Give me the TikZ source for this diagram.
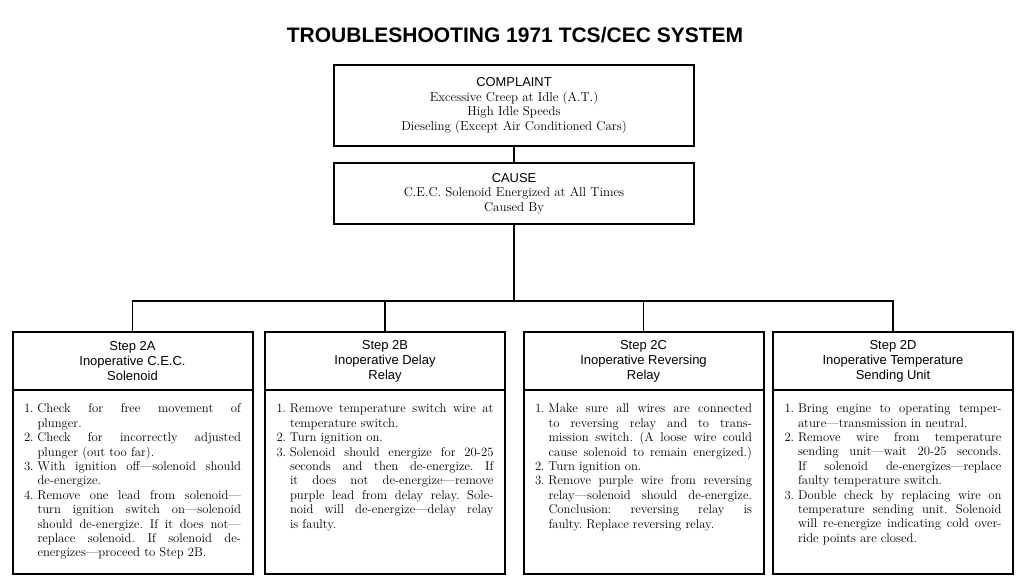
\documentclass[tikz,border=0pt]{standalone}
\usepackage{fontspec}
\setsansfont{Liberation Sans}
\usepackage{tikz}
\usetikzlibrary{positioning}
\newcommand{\fline}[2]{\noindent\makebox[13.5pt][l]{#1}\makebox[203.5pt][s]{#2}\par}
\newcommand{\lline}[2]{\noindent\makebox[13.5pt][l]{#1}#2\par}
\newcommand{\steptext}[1]{\parbox[t][156pt][t]{217pt}{\fontsize{12.7}{14.4}\selectfont
    \frenchspacing\hbadness=10000 #1}}
\tikzset{
    box/.style={
        draw,
        line width=2pt,
        outer sep=0pt,
        inner sep=0pt,
        minimum width=360pt,
        align=center,
        font=\fontsize{12.9}{14.6}\selectfont
    },
    stephead/.style={
        draw,
        line width=2pt,
        outer sep=0pt,
        inner sep=0pt,
        minimum width=240pt,
        minimum height=58pt,
        align=center,
        font=\sffamily\fontsize{13}{15}\selectfont
    },
    stepbody/.style={
        draw,
        line width=2pt,
        outer sep=0pt,
        inner xsep=11.5pt,
        inner ysep=14pt,
        minimum width=240pt
    },
    link/.style={line width=1.8pt},
}

\begin{document}
\begin{tikzpicture}[x=1pt, y=1pt]
    \useasboundingbox (0,0) rectangle (1024,587);

    \node[anchor=base, font=\sffamily\bfseries\fontsize{21}{25}\selectfont] (title) at (515,544)
        {TROUBLESHOOTING 1971 TCS/CEC SYSTEM};

    \node[box, minimum height=81pt] (complaint) at (514,481.5)
        {{\sffamily COMPLAINT}\\Excessive Creep at Idle (A.T.)\\High Idle Speeds\\Dieseling (Except Air Conditioned Cars)};
    \node[box, minimum height=61pt, below=17pt of complaint] (cause)
        {{\sffamily CAUSE}\\C.E.C. Solenoid Energized at All Times\\Caused By};

    \node[stephead] (hA) at (132.5,226) {Step 2A\\Inoperative C.E.C.\\Solenoid};
    \node[stephead] (hB) at (385,226)   {Step 2B\\Inoperative Delay\\Relay};
    \node[stephead] (hC) at (643.5,226) {Step 2C\\Inoperative Reversing\\Relay};
    \node[stephead] (hD) at (893,226)   {Step 2D\\Inoperative Temperature\\Sending Unit};

    \node[stepbody, below=0pt of hA] (bA) {\steptext{%
        \fline{1.}{Check for free movement of}
        \lline{}{plunger.}
        \fline{2.}{Check for incorrectly adjusted}
        \lline{}{plunger (out too far).}
        \fline{3.}{With ignition off---solenoid should}
        \lline{}{de-energize.}
        \fline{4.}{Remove one lead from solenoid---}
        \fline{}{turn ignition switch on---solenoid}
        \fline{}{should de-energize. If it does not---}
        \fline{}{replace solenoid. If solenoid de-}
        \lline{}{energizes---proceed to Step 2B.}}};
    \node[stepbody, below=0pt of hB] (bB) {\steptext{%
        \fline{1.}{Remove temperature switch wire at}
        \lline{}{temperature switch.}
        \lline{2.}{Turn ignition on.}
        \fline{3.}{Solenoid should energize for 20-25}
        \fline{}{seconds and then de-energize. If}
        \fline{}{it does not de-energize---remove}
        \fline{}{purple lead from delay relay. Sole-}
        \fline{}{noid will de-energize---delay relay}
        \lline{}{is faulty.}}};
    \node[stepbody, below=0pt of hC] (bC) {\steptext{%
        \fline{1.}{Make sure all wires are connected}
        \fline{}{to reversing relay and to trans-}
        \fline{}{mission switch. (A loose wire could}
        \fline{}{cause solenoid to remain energized.)}
        \lline{2.}{Turn ignition on.}
        \fline{3.}{Remove purple wire from reversing}
        \fline{}{relay---solenoid should de-energize.}
        \fline{}{Conclusion: reversing relay is}
        \lline{}{faulty. Replace reversing relay.}}};
    \node[stepbody, below=0pt of hD] (bD) {\steptext{%
        \fline{1.}{Bring engine to operating temper-}
        \lline{}{ature---transmission in neutral.}
        \fline{2.}{Remove wire from temperature}
        \fline{}{sending unit---wait 20-25 seconds.}
        \fline{}{If solenoid de-energizes---replace}
        \lline{}{faulty temperature switch.}
        \fline{3.}{Double check by replacing wire on}
        \fline{}{temperature sending unit. Solenoid}
        \fline{}{will re-energize indicating cold over-}
        \lline{}{ride points are closed.}}};

    \coordinate (split) at (cause.south |- 0,286);
    \draw[link] (complaint) -- (cause);
    \draw[link] (cause) -- (split);
    \draw[link] (hA.north) |- (split) -| (hD.north);
    \draw[link] (hB.north) -- (hB.north |- split);
    \draw[link] (hC.north) -- (hC.north |- split);
\end{tikzpicture}
\end{document}
